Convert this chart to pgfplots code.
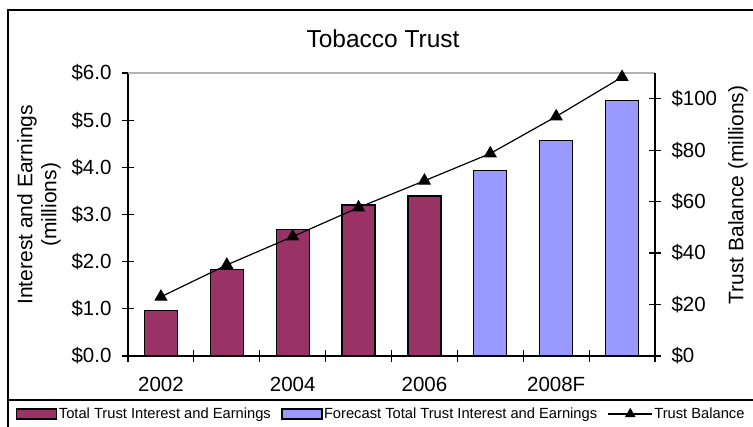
\documentclass[border=0pt]{standalone}
\usepackage{fontspec}
\setmainfont{Liberation Sans}
\usepackage{pgfplots}
\pgfplotsset{compat=1.18}
\definecolor{maroonbar}{HTML}{993366}
\definecolor{bluebar}{HTML}{9999FF}
\pgfplotsset{trilegend/.style={legend image code/.code={\draw[mark repeat=2, mark phase=2, ##1] plot coordinates {(0pt,0pt) (22pt,0pt) (44pt,0pt)};}}}
\begin{document}
\begin{tikzpicture}[x=1pt,y=1pt]
\useasboundingbox (0,0) rectangle (753,427);
\draw[line width=1.2pt] (8,0) -- (8,417) -- (753,417);
\draw[line width=1.2pt] (8,27) -- (753,27);
\begin{axis}[
  at={(128pt,71pt)}, anchor=south west,
  width=527pt, height=283pt, scale only axis,
  xmin=-0.5, xmax=7.5, ymin=0, ymax=6,
  axis x line*=bottom, axis y line*=left,
  axis line style={-, line width=1.2pt, black},
  tick align=center, major tick length=12pt,
  tick style={black, line width=1.2pt},
  xtick={-0.5,0.5,1.5,2.5,3.5,4.5,5.5,6.5,7.5},
  xticklabels={},
  extra x ticks={0,2,4,6},
  extra x tick labels={2002,2004,2006,2008F},
  extra x tick style={major tick length=0pt, xticklabel style={yshift=-18pt}},
  ytick={0,1,2,3,4,5,6},
  yticklabels={\$0.0,\$1.0,\$2.0,\$3.0,\$4.0,\$5.0,\$6.0},
  ticklabel style={font=\fontsize{20.5}{24}\selectfont},
  yticklabel style={xshift=-7pt},
  ylabel={Interest and Earnings\\(millions)},
  ylabel style={at={(rel axis cs:-0.169,0.534)}, anchor=center, rotate=0, align=center, font=\fontsize{21}{24}\selectfont},
  title={Tobacco Trust},
  title style={at={(rel axis cs:0.484,1.068)}, anchor=base, font=\fontsize{24.5}{28}\selectfont},
  legend columns=3,
  legend cell align=left,
  legend style={at={(rel axis cs:-0.2125,-0.205)}, anchor=west, draw=none, fill=none,
    inner sep=0pt, font=\fontsize{14.7}{17}\selectfont,
    nodes={inner xsep=1.5pt, inner ysep=0pt},
    /tikz/every even column/.append style={column sep=9pt}},
]
\draw[gray!60, line width=1.2pt] (rel axis cs:0,1) -- (rel axis cs:1,1);
\addplot[ybar, bar width=33pt, bar shift=0pt, fill=maroonbar, draw=black, line width=1.2pt,
  legend image code/.code={\draw[fill=maroonbar, draw=black, line width=1.2pt] (0pt,-5pt) rectangle (40pt,5pt);}]
  coordinates {(0,0.97) (1,1.83) (2,2.68) (3,3.20) (4,3.39)};
\addlegendentry{Total Trust Interest and Earnings}
\addplot[ybar, bar width=33pt, bar shift=0pt, fill=bluebar, draw=black, line width=1.2pt,
  legend image code/.code={\draw[fill=bluebar, draw=black, line width=1.2pt] (0pt,-5pt) rectangle (40pt,5pt);}]
  coordinates {(5,3.94) (6,4.57) (7,5.42)};
\addlegendentry{Forecast Total Trust Interest and Earnings}
\addlegendimage{black, line width=1.2pt, mark=triangle*, mark size=5pt, trilegend}
\addlegendentry{Trust Balance}
\end{axis}
\begin{axis}[
  at={(128pt,71pt)}, anchor=south west,
  width=527pt, height=283pt, scale only axis,
  xmin=-0.5, xmax=7.5, ymin=0, ymax=110,
  axis x line=none, axis y line*=right,
  axis line style={-, line width=1.2pt, black},
  tick align=center, major tick length=12pt,
  tick style={black, line width=1.2pt},
  ytick={0,20,40,60,80,100},
  yticklabels={\$0,\$20,\$40,\$60,\$80,\$100},
  ticklabel style={font=\fontsize{20.5}{24}\selectfont},
  yticklabel style={xshift=7pt},
  ylabel={Trust Balance (millions)},
  ylabel style={at={(rel axis cs:1.1575,0.569)}, anchor=center, rotate=0, font=\fontsize{21}{24}\selectfont},
]
\addplot[black, line width=1.2pt, mark=triangle*, mark size=6.5pt]
  coordinates {(0,23.0) (1,35.4) (2,46.4) (3,57.7) (4,68.1) (5,78.7) (6,93.1) (7,108.4)};
\end{axis}
\end{tikzpicture}
\end{document}
